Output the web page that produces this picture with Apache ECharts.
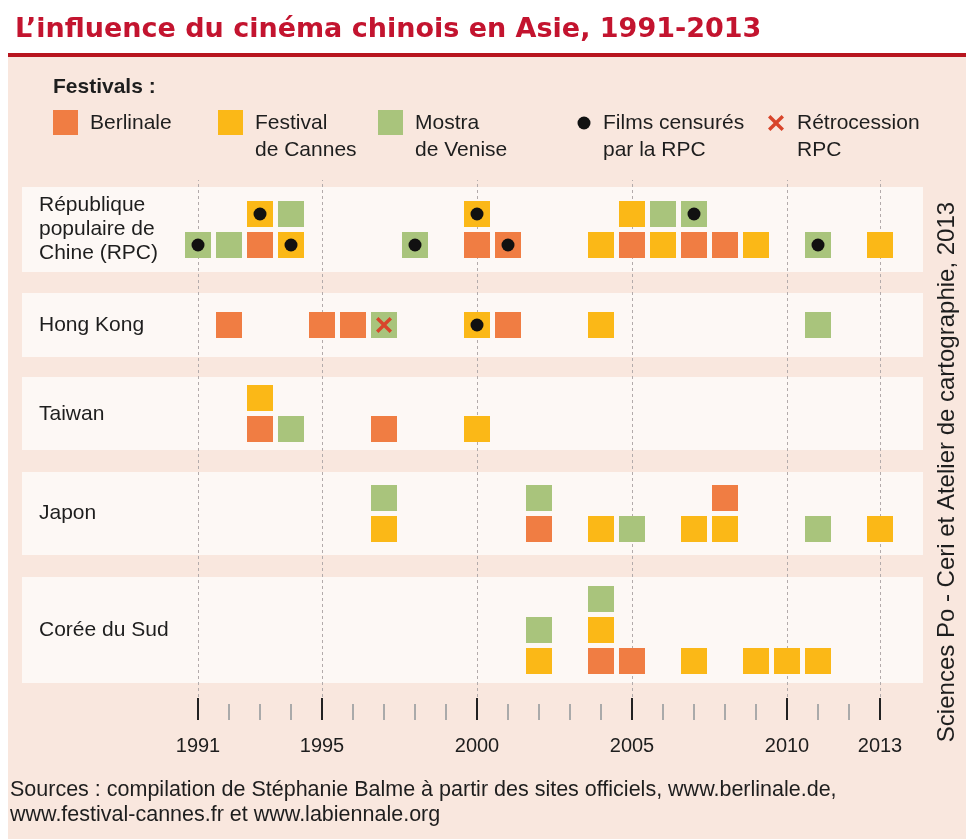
<!DOCTYPE html>
<html>
<head>
<meta charset="utf-8">
<script src="https://cdn.jsdelivr.net/npm/echarts@6/dist/echarts.min.js"></script>
<style>
html,body{margin:0;padding:0;background:#fff;}
#chart{width:966px;height:839px;}
</style>
</head>
<body>
<div id="chart"></div>
<script>
// ---------------- DATA ----------------
const rowNames = ['République\npopulaire de\nChine (RPC)', 'Hong Kong', 'Taiwan', 'Japon', 'Corée du Sud'];
const festivalCodes = ['B', 'C', 'V'];
const festivalNames = ['Berlinale', 'Festival\nde Cannes', 'Mostra\nde Venise'];
// each film: [year, position in the stack (0 = bottom), festival]
const rpcFilms = [
  [1991,0,'V'],[1992,0,'V'],[1993,0,'B'],[1993,1,'C'],[1994,0,'C'],[1994,1,'V'],
  [1998,0,'V'],[2000,0,'B'],[2000,1,'C'],[2001,0,'B'],[2004,0,'C'],[2005,0,'B'],
  [2005,1,'C'],[2006,0,'C'],[2006,1,'V'],[2007,0,'B'],[2007,1,'V'],[2008,0,'B'],
  [2009,0,'C'],[2011,0,'V'],[2013,0,'C']
];
const hongKongFilms = [
  [1992,0,'B'],[1995,0,'B'],[1996,0,'B'],[1997,0,'V'],[2000,0,'C'],[2001,0,'B'],
  [2004,0,'C'],[2011,0,'V']
];
const taiwanFilms = [
  [1993,0,'B'],[1993,1,'C'],[1994,0,'V'],[1997,0,'B'],[2000,0,'C']
];
const japonFilms = [
  [1997,0,'C'],[1997,1,'V'],[2002,0,'B'],[2002,1,'V'],[2004,0,'C'],[2005,0,'V'],
  [2007,0,'C'],[2008,0,'C'],[2008,1,'B'],[2011,0,'V'],[2013,0,'C']
];
const coreeFilms = [
  [2002,0,'C'],[2002,1,'V'],[2004,0,'B'],[2004,1,'C'],[2004,2,'V'],[2005,0,'B'],
  [2007,0,'C'],[2009,0,'C'],[2010,0,'C'],[2011,0,'C']
];
// films censored by the PRC: [year, position in the stack]
const rpcCensored = [[1991,0],[1993,1],[1994,0],[1998,0],[2000,1],[2001,0],[2007,1],[2011,0]];
const hongKongCensored = [[2000,0]];
// rétrocession (Hong Kong)
const hongKongRetro = [[1997,0]];
const tickYears = [1991, 1995, 2000, 2005, 2010, 2013];
const firstYear = 1991, lastYear = 2013;

// ---------------- LAYOUT / STYLE ----------------
const rowFilms = [rpcFilms, hongKongFilms, taiwanFilms, japonFilms, coreeFilms];
const rowCensored = [rpcCensored, hongKongCensored, [], [], []];
const rowRetro = [[], hongKongRetro, [], [], []];
const bands = [
  {top:187, h:85, n:2, labelY:229},
  {top:293, h:64, n:1, labelY:325},
  {top:377, h:73, n:2, labelY:414},
  {top:472, h:83, n:2, labelY:513},
  {top:577, h:106, n:3, labelY:630}
];
const colors = {B:'#f07d43', C:'#fbb817', V:'#a9c47c'};
const STEP = 31;               // px per year and per stack level
const AX_L = 198, AX_R = 880;  // px of first / last year
const BAND_L = 22, BAND_R = 923;
const pxYear = (AX_R - AX_L) / (lastYear - firstYear);
const bandMin = firstYear - (AX_L - BAND_L) / pxYear;
const bandMax = lastYear + (BAND_R - AX_R) / pxYear;
const FONT = 'Liberation Sans, Arial, sans-serif';
const TXT = '#1e1e1e';
const crossPts = [[0,1.5],[1.5,0],[5,3.5],[8.5,0],[10,1.5],[6.5,5],[10,8.5],[8.5,10],[5,6.5],[1.5,10],[0,8.5],[3.5,5]];
const crossPath = 'path://M' + crossPts.map(p => p.join(',')).join('L') + 'Z';

const grid = [], xAxis = [], yAxis = [], series = [];
bands.forEach((b, i) => {
  grid.push({left: BAND_L, width: BAND_R - BAND_L, top: b.top, height: b.h,
    show: true, backgroundColor: '#fdf8f5', borderWidth: 0});
  xAxis.push({gridIndex: i, type: 'value', min: bandMin, max: bandMax, show: false});
  const c = (b.n - 1) / 2, half = b.h / (2 * STEP);
  yAxis.push({gridIndex: i, type: 'value', min: c - half, max: c + half, show: false});
  festivalCodes.forEach(code => {
    series.push({
      type: 'scatter', name: code, xAxisIndex: i, yAxisIndex: i, symbol: 'rect', symbolSize: 26,
      itemStyle: {color: colors[code], opacity: 1}, silent: true, z: 3,
      data: rowFilms[i].filter(f => f[2] === code).map(f => [f[0], f[1]])
    });
  });
  if (rowCensored[i].length) series.push({
    type: 'scatter', xAxisIndex: i, yAxisIndex: i, symbol: 'circle', symbolSize: 13,
    itemStyle: {color: '#111', opacity: 1}, silent: true, z: 4, data: rowCensored[i]
  });
  if (rowRetro[i].length) series.push({
    type: 'scatter', xAxisIndex: i, yAxisIndex: i, symbol: crossPath, symbolSize: 16,
    itemStyle: {color: '#d8452b', opacity: 1}, silent: true, z: 4, data: rowRetro[i]
  });
});
// axis grids: 5 = minor ticks, 6 = major ticks + labels, 7 = dashed guides
grid.push({left: AX_L, width: AX_R - AX_L, top: 180, height: 540, show: false});
grid.push({left: AX_L, width: AX_R - AX_L, top: 180, height: 540, show: false});
grid.push({left: AX_L, width: AX_R - AX_L, top: 180, height: 517, show: false});
xAxis.push({gridIndex: 5, type: 'value', min: firstYear, max: lastYear, interval: 1,
  axisLine: {show: false}, splitLine: {show: false}, axisLabel: {show: false},
  axisTick: {show: true, inside: true, length: 16, lineStyle: {color: '#aaa', width: 2}}});
xAxis.push({gridIndex: 6, type: 'value', min: firstYear, max: lastYear,
  axisLine: {show: false}, splitLine: {show: false},
  axisTick: {show: true, inside: true, length: 22, customValues: tickYears, lineStyle: {color: '#222', width: 2}},
  axisLabel: {show: true, customValues: tickYears, formatter: v => String(v), margin: 16,
    fontSize: 20, fontFamily: FONT, color: TXT}});
xAxis.push({gridIndex: 7, type: 'value', min: firstYear, max: lastYear, show: false});
yAxis.push({gridIndex: 5, type: 'value', min: 0, max: 1, show: false});
yAxis.push({gridIndex: 6, type: 'value', min: 0, max: 1, show: false});
yAxis.push({gridIndex: 7, type: 'value', min: 0, max: 1, show: false});
series.push({type: 'scatter', xAxisIndex: 7, yAxisIndex: 7, data: [], silent: true, z: 1,
  markLine: {silent: true, z: 1, symbol: ['none', 'none'], label: {show: false},
    lineStyle: {type: [3, 3], color: '#b3abab', width: 1},
    data: tickYears.map(y => ({xAxis: y}))}});

// graphics: panel, title rule, legend, row labels, credits, sources
const g = [];
g.push({type: 'rect', z: -10, shape: {x: 8, y: 57, width: 958, height: 782}, style: {fill: '#f9e7de'}});
g.push({type: 'rect', z: -5, shape: {x: 8, y: 53, width: 958, height: 4}, style: {fill: '#b8151f'}});
g.push({type: 'text', x: 53, y: 87, style: {text: 'Festivals :', font: 'bold 21px ' + FONT, fill: TXT, verticalAlign: 'middle'}});
const legX = [53, 218, 378];
festivalCodes.forEach((code, k) => {
  g.push({type: 'rect', shape: {x: legX[k], y: 110, width: 25, height: 25}, style: {fill: colors[code]}});
  g.push({type: 'text', x: legX[k] + 37, y: 110, style: {text: festivalNames[k], font: '21px ' + FONT,
    fill: TXT, lineHeight: 27, verticalAlign: 'top'}});
});
g.push({type: 'circle', shape: {cx: 584, cy: 123, r: 6.5}, style: {fill: '#111'}});
g.push({type: 'text', x: 603, y: 110, style: {text: 'Films censurés\npar la RPC', font: '21px ' + FONT, fill: TXT, lineHeight: 27, verticalAlign: 'top'}});
g.push({type: 'polygon', shape: {points: crossPts.map(p => [768 + p[0] * 1.6, 115 + p[1] * 1.6])}, style: {fill: '#d8452b'}});
g.push({type: 'text', x: 797, y: 110, style: {text: 'Rétrocession\nRPC', font: '21px ' + FONT, fill: TXT, lineHeight: 27, verticalAlign: 'top'}});
bands.forEach((b, i) => {
  g.push({type: 'text', x: 39, y: b.labelY, z: 10, style: {text: rowNames[i], font: '21px ' + FONT, fill: TXT, lineHeight: 24, verticalAlign: 'middle'}});
});
g.push({type: 'text', x: 947, y: 472, rotation: Math.PI / 2, style: {text: 'Sciences Po - Ceri et Atelier de cartographie, 2013',
  font: '24px ' + FONT, fill: TXT, align: 'center', verticalAlign: 'middle'}});
g.push({type: 'text', x: 10, y: 778, style: {text: 'Sources : compilation de Stéphanie Balme à partir des sites officiels, www.berlinale.de,\nwww.festival-cannes.fr et www.labiennale.org',
  font: '21.5px ' + FONT, fill: TXT, lineHeight: 25, verticalAlign: 'top'}});

const chart = echarts.init(document.getElementById('chart'), null, {renderer: 'canvas'});
chart.setOption({
  animation: false,
  backgroundColor: '#ffffff',
  title: {text: 'L’influence du cinéma chinois en Asie, 1991-2013', left: 10, top: 11,
    textStyle: {fontSize: 27, fontWeight: 'bold', color: '#c3142f', fontFamily: 'DejaVu Sans'}},
  grid, xAxis, yAxis, series,
  graphic: {elements: g}
});
</script>
</body>
</html>
